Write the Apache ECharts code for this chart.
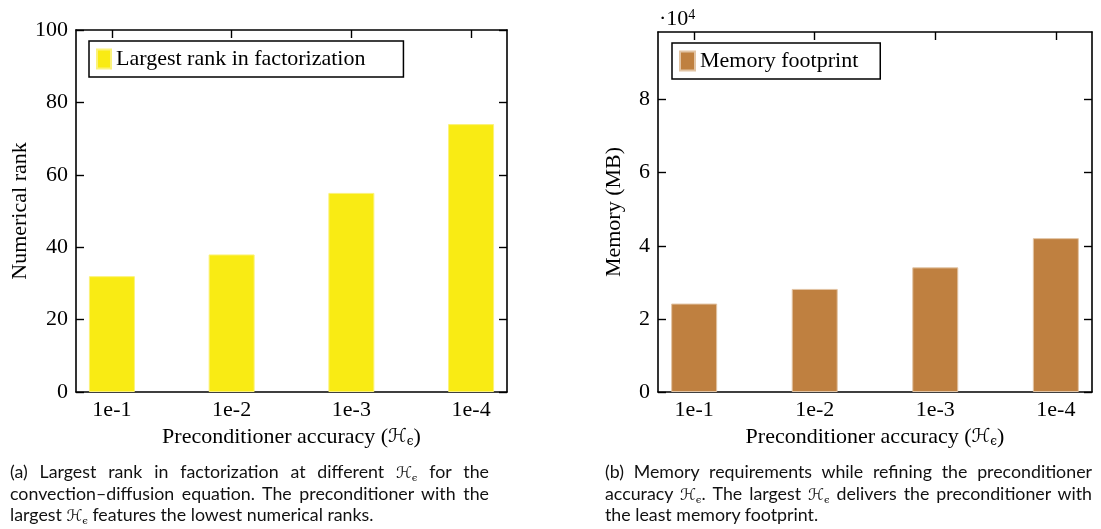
<!DOCTYPE html>
<html>
<head>
<meta charset="utf-8">
<script src="https://cdn.jsdelivr.net/npm/echarts@6/dist/echarts.min.js"></script>
<style>
  html, body { margin: 0; padding: 0; background: #fff; }
  #wrap { position: relative; width: 1101px; height: 529px; overflow: hidden; }
  #chart { position: absolute; left: 0; top: 0; width: 1101px; height: 529px; }
  .cap { position: absolute; font-family: 'Lato', 'Noto Sans', sans-serif; font-size: 17.8px; color: #111; }
  .cap div { height: 21.7px; line-height: 21.7px; white-space: normal; text-align: justify; text-align-last: justify; }
  .cap div.last { text-align: left; text-align-last: left; }
  .cap .h { font-family: 'DejaVu Serif', 'DejaVu Sans', serif; font-style: italic; font-size: 16px; line-height: 0; }
  .cap sub { font-size: 10px; vertical-align: -3px; font-style: normal; line-height: 0; }
</style>
</head>
<body>
<div id="wrap">
  <div id="chart"></div>
  <div class="cap" id="capA" style="left:10px; top:461px; width:479px;">
    <div>(a) Largest rank in factorization at different <span class="h">ℋ<sub>ϵ</sub></span> for the</div>
    <div>convection–diffusion equation. The preconditioner with the</div>
    <div class="last">largest <span class="h">ℋ<sub>ϵ</sub></span> features the lowest numerical ranks.</div>
  </div>
  <div class="cap" id="capB" style="left:605px; top:461px; width:487px;">
    <div>(b) Memory requirements while refining the preconditioner</div>
    <div>accuracy <span class="h">ℋ<sub>ϵ</sub></span>. The largest <span class="h">ℋ<sub>ϵ</sub></span> delivers the preconditioner with</div>
    <div class="last">the least memory footprint.</div>
  </div>
</div>
<script>
// ---- data ----
const categories = ['1e-1', '1e-2', '1e-3', '1e-4'];
const rankValues = [32, 38, 55, 74];
const memoryValues = [24200, 28200, 34100, 42100]; // MB
const rankTicks = [0, 20, 40, 60, 80, 100];
const memoryTicks = [0, 20000, 40000, 60000, 80000];
const rankName = 'Largest rank in factorization';
const memoryName = 'Memory footprint';

// ---- styling ----
const SERIF = "'Liberation Serif', 'Times New Roman', serif";
const FS = 22;
const BLACK = '#000';
const catIdx = categories.map((c, i) => i);

const xNameRich = {
  h: { fontFamily: "'DejaVu Serif','DejaVu Sans', serif", fontSize: 19, fontStyle: 'italic', color: BLACK },
  s: { fontFamily: "'DejaVu Serif','DejaVu Sans', serif", fontSize: 12, verticalAlign: 'bottom', color: BLACK, padding: [10, 0, 0, 0] }
};
const xName = 'Preconditioner accuracy ({h|ℋ}{s|ϵ})';

function bottomX(gridIndex) {
  return {
    type: 'value', gridIndex, position: 'bottom', min: -0.3, max: 3.3,
    axisLine: { show: true, onZero: false, lineStyle: { color: BLACK, width: 1.6 } },
    axisTick: { show: true, inside: true, length: 8, customValues: catIdx, lineStyle: { color: BLACK, width: 1.4 } },
    axisLabel: { show: true, customValues: catIdx, margin: 7, color: BLACK, fontFamily: SERIF, fontSize: FS,
      formatter: v => categories[Math.round(v)] },
    splitLine: { show: false },
    name: xName, nameLocation: 'middle', nameGap: 34,
    nameTextStyle: { color: BLACK, fontFamily: SERIF, fontSize: FS, rich: xNameRich }
  };
}
function topX(gridIndex) {
  return {
    type: 'value', gridIndex, position: 'top', min: -0.3, max: 3.3,
    axisLine: { show: true, onZero: false, lineStyle: { color: BLACK, width: 1.6 } },
    axisTick: { show: true, inside: true, length: 8, customValues: catIdx, lineStyle: { color: BLACK, width: 1.4 } },
    axisLabel: { show: false },
    splitLine: { show: false }
  };
}
function leftY(gridIndex, max, ticks, name, fmt, gap) {
  return {
    type: 'value', gridIndex, position: 'left', min: 0, max: max,
    axisLine: { show: true, onZero: false, lineStyle: { color: BLACK, width: 1.6 } },
    axisTick: { show: true, inside: true, length: 8, customValues: ticks, lineStyle: { color: BLACK, width: 1.4 } },
    axisLabel: { show: true, customValues: ticks, margin: 8, color: BLACK, fontFamily: SERIF, fontSize: FS, formatter: fmt },
    splitLine: { show: false },
    name: name, nameLocation: 'middle', nameGap: gap,
    nameTextStyle: { color: BLACK, fontFamily: SERIF, fontSize: FS }
  };
}
function rightY(gridIndex, max, ticks) {
  return {
    type: 'value', gridIndex, position: 'right', min: 0, max: max,
    axisLine: { show: true, onZero: false, lineStyle: { color: BLACK, width: 1.6 } },
    axisTick: { show: true, inside: true, length: 8, customValues: ticks, lineStyle: { color: BLACK, width: 1.4 } },
    axisLabel: { show: false },
    splitLine: { show: false }
  };
}

const legendText = { color: BLACK, fontFamily: SERIF, fontSize: FS, lineHeight: 22 };

const option = {
  animation: false,
  backgroundColor: '#fff',
  grid: [
    { left: 76, top: 30, width: 431, height: 362 },
    { left: 658, top: 32, width: 434, height: 360 }
  ],
  xAxis: [bottomX(0), topX(0), bottomX(1), topX(1)],
  yAxis: [
    leftY(0, 100, rankTicks, 'Numerical rank', v => String(v), 44),
    rightY(0, 100, rankTicks),
    leftY(1, 98500, memoryTicks, 'Memory (MB)', v => String(v / 10000), 33),
    rightY(1, 98500, memoryTicks)
  ],
  legend: [
    { data: [rankName], left: 89, top: 41, icon: 'rect', itemWidth: 14, itemHeight: 19,
      selectedMode: false, borderColor: BLACK, borderWidth: 1.5, borderRadius: 0,
      padding: [7, 38, 7, 7], textStyle: legendText },
    { data: [memoryName], left: 672, top: 43, icon: 'rect', itemWidth: 15, itemHeight: 19,
      selectedMode: false, borderColor: BLACK, borderWidth: 1.5, borderRadius: 0,
      padding: [7, 22, 7, 7], textStyle: legendText }
  ],
  graphic: [
    { type: 'text', left: 659, top: 8,
      style: { text: '·10{sup|4}', fill: BLACK, font: `${FS}px ${SERIF}`,
        rich: { sup: { fontSize: 14, fontFamily: SERIF, verticalAlign: 'top', fill: BLACK } } } }
  ],
  series: [
    { name: rankName, type: 'bar', xAxisIndex: 0, yAxisIndex: 0, barWidth: 46,
      itemStyle: { color: '#F9EB14', borderColor: '#FBF27A', borderWidth: 1 },
      data: rankValues.map((v, i) => [i, v]) },
    { name: memoryName, type: 'bar', xAxisIndex: 2, yAxisIndex: 2, barWidth: 46,
      itemStyle: { color: '#BF8040', borderColor: '#E2C4A4', borderWidth: 1 },
      data: memoryValues.map((v, i) => [i, v]) }
  ]
};

const chart = echarts.init(document.getElementById('chart'), null, { renderer: 'canvas' });
chart.setOption(option);
</script>
</body>
</html>
